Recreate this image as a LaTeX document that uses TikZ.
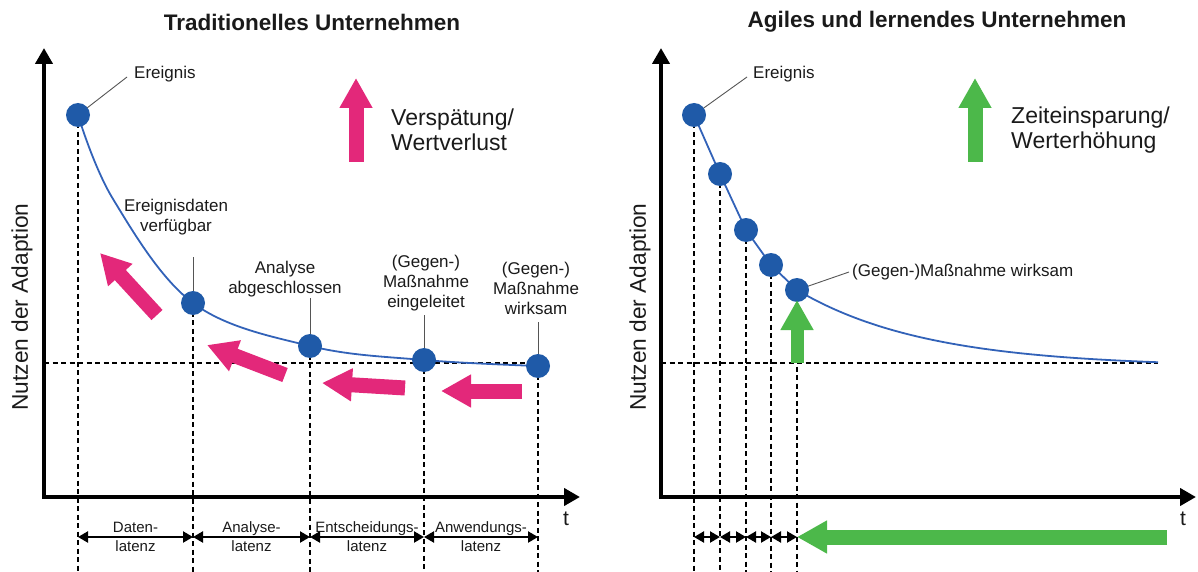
\documentclass[tikz,border=0pt]{standalone}
\usepackage{fontspec}
\setmainfont{Liberation Sans}
\usetikzlibrary{arrows.meta}
\definecolor{dotblue}{HTML}{1F5AA8}
\definecolor{curveblue}{HTML}{3262B8}
\definecolor{lossred}{HTML}{E3287A}
\definecolor{gaingreen}{HTML}{4CB84A}
\definecolor{leadergray}{HTML}{555555}
\definecolor{ink}{HTML}{1A1A1A}
\begin{document}
\begin{tikzpicture}[x=1pt,y=-1pt,
  axis/.style={line width=4pt,-{Triangle[width=17pt,length=16pt]}},
  dot/.style={circle,fill=dotblue,inner sep=0pt,minimum size=24pt},
  curve/.style={curveblue,line width=1.8pt},
  guide/.style={line width=1.6pt,dash pattern=on 5pt off 3.5pt},
  leader/.style={leadergray,line width=0.9pt},
  span/.style={line width=2.2pt,{Triangle[width=11pt,length=10pt]}-{Triangle[width=11pt,length=10pt]}},
  fat/.style={line width=15pt,-{Triangle[width=31pt,length=30pt]}},
  lbl/.style={text=ink,font=\fontsize{17}{20}\selectfont,align=center,inner sep=0pt},
  lat/.style={text=ink,font=\fontsize{15}{19}\selectfont,align=center,inner sep=0pt},
  title/.style={text=ink,font=\bfseries\fontsize{22.5}{26}\selectfont,inner sep=0pt},
  big/.style={text=ink,font=\fontsize{23}{25}\selectfont,align=left,inner sep=0pt},
  ylab/.style={text=ink,font=\fontsize{22.7}{26}\selectfont,rotate=90,inner sep=0pt},
  tlab/.style={text=ink,font=\fontsize{21}{24}\selectfont,inner sep=0pt}
]
\useasboundingbox (0,0) rectangle (1198,572);

\coordinate (bot) at (0,572);
\coordinate (row) at (0,537);

% ---------------- left panel: traditional company ----------------
\node[title] (lt) at (312,22) {Traditionelles Unternehmen};
\node[ylab] (ly) at (22,307) {Nutzen der Adaption};
\node[tlab] (ltt) at (566,519) {t};

\coordinate (lo) at (44,497);
\coordinate (lbase) at (44,363);

% curve points
\coordinate (lc1) at (78,115);
\coordinate (lc1a) at (113,199);
\coordinate (lc2) at (193,303);
\coordinate (lc3) at (310,346);
\coordinate (lc4) at (424,360);
\coordinate (lc5) at (538,366);

% dashed guides
\draw[guide] (lbase) -- (538,363);
\foreach \i in {1,...,5} \draw[guide] (lc\i) -- (lc\i |- bot);

% axes
\draw[axis] (42,497) -- (44,497) -- (44,48);
\draw[axis] (42,497) -- (580,497);

% latency spans
\draw[span] (lc1 |- row) -- (lc2 |- row) node[midway,lat] {Daten-\\latenz};
\draw[span] (lc2 |- row) -- (lc3 |- row) node[midway,lat] {Analyse-\\latenz};
\draw[span] (lc3 |- row) -- (lc4 |- row) node[midway,lat] {Entscheidungs-\\latenz};
\draw[span] (lc4 |- row) -- (lc5 |- row) node[midway,lat] {Anwendungs-\\latenz};

% value curve
\draw[curve] plot[smooth,tension=0.6] coordinates {(lc1) (lc1a) (lc2) (lc3) (lc4) (lc5)};

% labels and leaders
\node[lbl,anchor=west] (le) at (134,74) {Ereignis};
\node[lbl] (la) at (176,217) {Ereignisdaten\\verfügbar};
\node[lbl] (lb) at (285,279) {Analyse\\abgeschlossen};
\node[lbl] (lc) at (426,283) {(Gegen-)\\Maßnahme\\eingeleitet};
\node[lbl] (ld) at (536,288) {(Gegen-)\\Maßnahme\\wirksam};

\draw[leader] (lc1) -- ([xshift=-7pt,yshift=-3pt]le.west);
\draw[leader] (lc2) -- ++(0,-46);
\draw[leader] (lc3) -- ++(0,-48);
\draw[leader] (lc4) -- ++(0,-45);
\draw[leader] (lc5) -- ++(0,-44);

% milestones
\foreach \i in {1,...,5} \node[dot] (ld\i) at (lc\i) {};

% loss arrows
\draw[fat,lossred] (356,162) -- (356,78);
\draw[fat,lossred] (157,315) -- (100,253);
\draw[fat,lossred] (285,375) -- (207,345);
\draw[fat,lossred] (405,388) -- (322,383);
\draw[fat,lossred] (522,391) -- (441,391);

\node[big,anchor=west] (lv) at (391,130) {Verspätung/\\Wertverlust};

% ---------------- right panel: agile, learning company ----------------
\node[title] (rt) at (937,22) {Agiles und lernendes Unternehmen};
\node[ylab] (ry) at (640,307) {Nutzen der Adaption};
\node[tlab] (rtt) at (1183,519) {t};

\coordinate (rc1) at (694,115);
\coordinate (rc2) at (720,174);
\coordinate (rc3) at (746,230);
\coordinate (rc4) at (771,265);
\coordinate (rc5) at (797,290);
\coordinate (rend) at (1158,367);

% dashed guides
\draw[guide] (661,363) -- (1158,363);
\foreach \i in {1,...,5} \draw[guide] (rc\i) -- (rc\i |- bot);

% axes
\draw[axis] (659,497) -- (661,497) -- (661,48);
\draw[axis] (659,497) -- (1196,497);

% short latency spans
\draw[span] (rc1 |- row) -- (rc2 |- row);
\draw[span] (rc2 |- row) -- (rc3 |- row);
\draw[span] (rc3 |- row) -- (rc4 |- row);
\draw[span] (rc4 |- row) -- (rc5 |- row);

% value curve
\draw[curve] (rc1) -- (rc2) -- (rc3) -- (rc4) -- (rc5);
\draw[curve] plot[domain=797:1158,samples=80] (\x,{367-77*exp(-0.0077*(\x-797))});

% labels and leaders
\node[lbl,anchor=west] (re) at (753,74) {Ereignis};
\node[lbl,anchor=west] (rw) at (852,272) {(Gegen-)Maßnahme wirksam};
\draw[leader] (rc1) -- ([xshift=-6pt,yshift=-3pt]re.west);
\draw[leader] (rc5) -- ([xshift=-3pt]rw.west);

% milestones
\foreach \i in {1,...,5} \node[dot] (rd\i) at (rc\i) {};

% gain arrows
\draw[fat,gaingreen] (975,162) -- (975,78);
\draw[fat,gaingreen] (1167,537) -- (rc5 |- row);
\draw[fat,gaingreen,line width=13pt] (797,363) -- (797,300);

\node[big,anchor=west] (rv) at (1011,130) {Zeiteinsparung/\\Werterhöhung};
\end{tikzpicture}
\end{document}
